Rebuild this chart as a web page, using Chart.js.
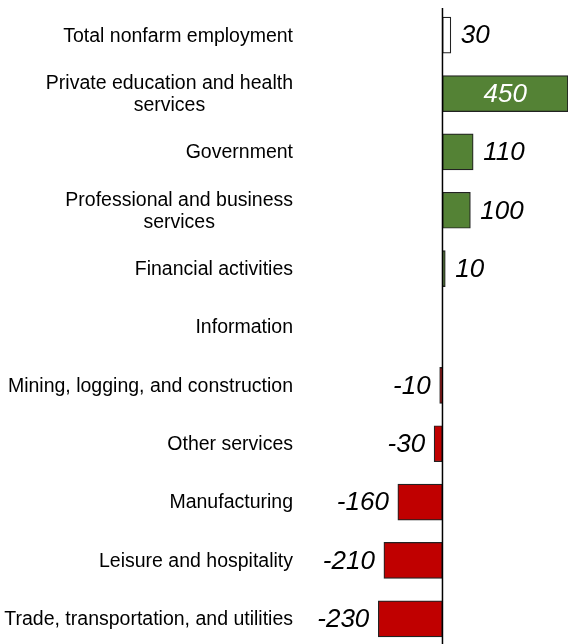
<!DOCTYPE html>
<html>
<head>
<meta charset="utf-8">
<script src="https://cdn.jsdelivr.net/npm/chart.js@4/dist/chart.umd.min.js"></script>
<style>
    html, body { margin: 0; padding: 0; background: #fff; overflow: hidden; }
    #wrap { width: 571px; height: 644px; overflow: hidden; }
</style>
</head>
<body>
<div id="wrap"><canvas id="jobsChart" width="571" height="650"></canvas></div>
<script>
const categories = [
    'Total nonfarm employment',
    ['Private education and health', 'services'],
    'Government',
    ['Professional and business', 'services'],
    'Financial activities',
    'Information',
    'Mining, logging, and construction',
    'Other services',
    'Manufacturing',
    'Leisure and hospitality',
    'Trade, transportation, and utilities'
];
const changes = [30, 450, 110, 100, 10, 0, -10, -30, -160, -210, -230];

const FONT = "'Liberation Sans', Arial, sans-serif";

document.addEventListener('DOMContentLoaded', function() {
    createJobsChart();
});

function barColor(value, i) {
    if (i === 0) return '#ffffff';
    return value >= 0 ? '#548235' : '#c00000';
}

// category labels: right aligned block, multi-line labels centered within it
const categoryLabels = {
    id: 'categoryLabels',
    afterDraw(chart) {
        const ctx = chart.ctx;
        const y = chart.scales.y;
        const rightX = 293;
        const lineH = 22;
        ctx.save();
        ctx.font = '19.5px ' + FONT;
        ctx.fillStyle = '#000';
        ctx.textBaseline = 'middle';
        categories.forEach(function(label, i) {
            const cy = y.getPixelForValue(i) + 1;
            const lines = Array.isArray(label) ? label : [label];
            const widest = Math.max.apply(null, lines.map(function(l) { return ctx.measureText(l).width; }));
            const center = rightX - widest / 2;
            ctx.textAlign = 'center';
            lines.forEach(function(line, k) {
                const ly = cy + (k - (lines.length - 1) / 2) * lineH;
                ctx.fillText(line, center, ly);
            });
        });
        ctx.restore();
    }
};

const zeroLine = {
    id: 'zeroLine',
    afterDatasetsDraw(chart) {
        const ctx = chart.ctx;
        const x0 = chart.scales.x.getPixelForValue(0);
        ctx.save();
        ctx.strokeStyle = '#000';
        ctx.lineWidth = 1.5;
        ctx.beginPath();
        ctx.moveTo(x0, chart.chartArea.top + 2);
        ctx.lineTo(x0, chart.chartArea.bottom);
        ctx.stroke();
        ctx.restore();
    }
};

const valueLabels = {
    id: 'valueLabels',
    afterDatasetsDraw(chart) {
        const ctx = chart.ctx;
        const meta = chart.getDatasetMeta(0);
        ctx.save();
        ctx.font = 'italic 26px ' + FONT;
        ctx.textBaseline = 'middle';
        meta.data.forEach(function(bar, i) {
            const v = changes[i];
            if (v === 0) return;
            if (v >= 400) {
                ctx.fillStyle = '#ffffff';
                ctx.textAlign = 'center';
                ctx.fillText(String(v), (bar.x + bar.base) / 2, bar.y + 1);
            } else if (v > 0) {
                ctx.fillStyle = '#000';
                ctx.textAlign = 'left';
                ctx.fillText(String(v), bar.x + 10, bar.y + 1);
            } else {
                ctx.fillStyle = '#000';
                ctx.textAlign = 'right';
                ctx.fillText(String(v), bar.x - 9, bar.y + 1);
            }
        });
        ctx.restore();
    }
};

function createJobsChart() {
    const ctx = document.getElementById('jobsChart').getContext('2d');
    new Chart(ctx, {
        type: 'bar',
        data: {
            labels: categories,
            datasets: [{
                data: changes,
                backgroundColor: changes.map(barColor),
                borderColor: '#222222',
                borderWidth: 1.2,
                borderSkipped: false,
                barThickness: 36
            }]
        },
        options: {
            indexAxis: 'y',
            responsive: false,
            animation: false,
            devicePixelRatio: 1,
            layout: { padding: { top: 6, right: 3, bottom: 2, left: 0 } },
            plugins: {
                legend: { display: false },
                tooltip: { enabled: false }
            },
            scales: {
                x: {
                    display: false,
                    min: -500,
                    max: 450
                },
                y: {
                    display: true,
                    grid: { display: false, drawTicks: false },
                    border: { display: false },
                    ticks: { display: false },
                    afterFit: function(scale) { scale.width = 303; }
                }
            }
        },
        plugins: [categoryLabels, zeroLine, valueLabels]
    });
}
</script>
</body>
</html>
